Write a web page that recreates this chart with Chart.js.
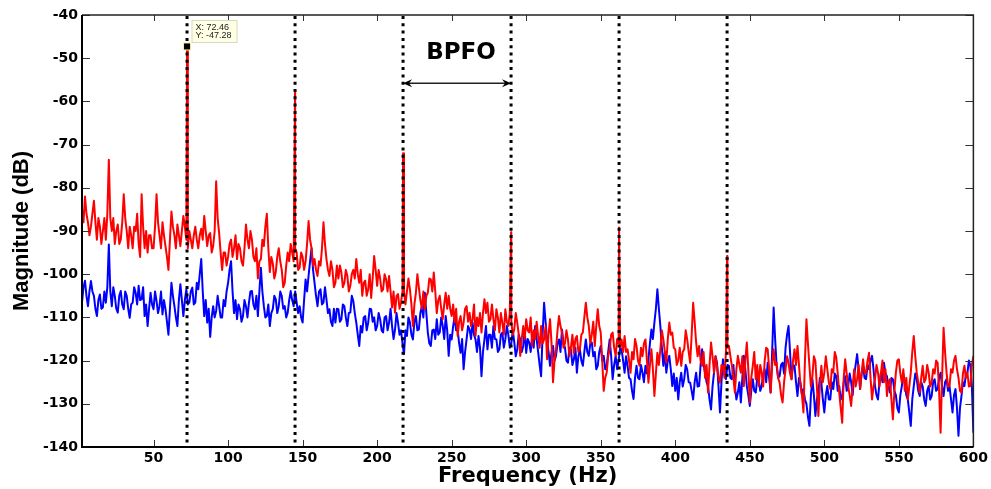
<!DOCTYPE html>
<html>
<head>
<meta charset="utf-8">
<script src="https://cdn.jsdelivr.net/npm/chart.js@4.4.1/dist/chart.umd.min.js"></script>
<style>
html,body{margin:0;padding:0;background:#fff;}
#wrap{width:991px;height:489px;}
</style>
</head>
<body>
<div id="wrap"><canvas id="c" width="991" height="489"></canvas></div>
<script>
// ---- data ----
const freqStart = 2;      // Hz, first bin
const freqStep = 1;       // Hz, bin spacing
const redMagnitude = [
 -85, -88, -82, -86, -88, -91, -89, -86, -83, -88,
 -92, -87, -89, -93, -90, -87, -92, -86, -73.5, -87,
 -90, -87, -93, -90, -88.5, -93, -92, -88, -81.5, -87,
 -90, -94, -89, -91, -94, -89, -90, -86, -93, -96,
 -81.5, -89, -94, -90, -95, -91, -91, -94, -94, -89,
 -81.5, -88, -91, -94, -88, -91, -93.5, -96, -99, -92,
 -85.5, -89, -91, -94, -88.5, -91, -93.5, -90, -86.5, -89,
 -92, -94, -90, -92, -94, -91, -89, -92, -94, -91,
 -89.5, -92, -86.5, -90, -93.5, -91, -90.5, -95, -93.5, -90,
 -78.5, -87, -90.5, -95, -99, -95, -95, -98, -96, -93,
 -92, -96, -94, -91, -96.5, -93, -94, -97, -98, -94,
 -88.5, -92, -94, -90, -92, -96, -97, -94, -101, -97,
 -96.5, -92, -93.5, -89, -86, -94, -99.5, -96, -97.5, -101,
 -99.5, -96, -94, -97, -99, -103, -102, -98, -95, -97,
 -93, -95, -97, -94, -95, -99, -98.5, -95, -96, -99,
 -97, -93, -87.7, -92, -94, -98, -96.5, -99, -100.4, -97,
 -98, -94, -88, -93, -96.5, -99, -100.4, -97, -99, -103,
 -102, -98, -101, -98, -99.6, -103, -102, -99, -100.4, -104,
 -102.7, -100, -99, -101, -96.5, -100, -102, -99, -105, -102,
 -101.5, -105, -103.5, -100, -105.5, -101, -95.8, -99, -102.7, -99,
 -101, -104, -103.5, -100, -101.2, -104, -100.4, -104, -107.7, -104,
 -108.9, -105, -104.6, -108, -106.6, -104, -104, -107, -103.9, -101,
 -103.5, -107, -112, -107, -104.3, -100, -103.1, -106, -108, -104,
 -108.1, -105, -104.3, -101, -101.2, -104, -99.6, -104, -109, -106,
 -105, -108, -110.4, -107, -104.3, -108, -105, -108, -109.7, -107,
 -111.2, -108, -114.3, -111, -109.7, -113, -111.2, -108, -107.4, -111,
 -108.9, -112, -110.4, -107, -114.3, -110, -112, -109, -113.5, -109,
 -105.8, -109, -106.6, -111, -110.4, -107, -110.4, -113, -108.1, -110,
 -113.5, -109, -111.2, -114, -108.1, -111, -112, -109, -111, -114,
 -112.8, -109, -111.2, -114, -118.9, -115, -112, -115, -110.4, -113,
 -113.5, -110, -116.6, -113, -115, -111, -114.3, -117, -112, -116,
 -115.1, -112, -119.7, -114, -110.4, -116, -125, -120, -117.4, -113,
 -109.7, -112, -113.5, -117, -116, -113, -115.1, -119, -117, -114,
 -118.2, -115, -114.3, -118, -117.4, -114, -113.5, -110, -106.6, -110,
 -112, -116, -114, -111, -116.6, -112, -108.1, -112, -113.5, -120,
 -127, -124, -122.8, -119, -117.4, -114, -113.5, -117, -118.9, -115,
 -116, -117, -115.1, -118, -114.3, -118, -117.4, -120, -122.8, -118,
 -119.7, -115, -116.6, -120, -121.2, -117, -119, -116, -115.1, -120,
 -125.1, -121, -117.4, -122, -128.2, -123, -118.2, -121, -117.4, -113,
 -115.1, -118, -120.5, -115, -111.2, -114, -113.5, -117, -117.4, -121,
 -120, -117, -121.2, -118, -117.4, -113, -115.1, -118, -120.5, -114,
 -106.6, -111, -115.8, -119, -116.6, -120, -121.2, -118, -124, -121,
 -127.4, -121, -115.8, -119, -122.8, -119, -121.2, -124, -125.1, -121,
 -121.2, -124, -118, -117, -116.6, -119, -121.2, -124, -127.4, -122,
 -118.9, -121, -122.8, -119, -125.9, -120, -115.8, -122, -129.7, -124,
 -121.2, -118, -124.3, -121, -125.9, -121, -122.8, -126, -120, -117,
 -117.4, -122, -127.4, -121, -117.4, -121, -120.5, -124, -125.1, -128,
 -129.7, -125, -122, -119, -120.5, -123, -124.3, -120, -117.4, -121,
 -116.6, -121, -125.9, -128, -132, -120, -110.4, -116, -121.2, -126,
 -123.6, -119, -120.1, -126, -132.8, -126, -121.2, -125, -122.8, -119,
 -122, -125, -126.6, -122, -122.8, -118, -119.3, -123, -127.4, -131,
 -134.4, -124, -119.7, -123, -125.9, -128, -130.5, -126, -122, -126,
 -124.3, -121, -126.6, -123, -119.7, -123, -122.8, -120, -118.2, -124,
 -129, -126, -124.3, -121, -122.8, -126, -122.8, -120, -125, -122,
 -128.2, -125, -124.3, -129, -133.6, -127, -122.8, -120, -119.7, -123,
 -125.1, -122, -127, -124, -129, -126, -122.8, -118, -114.3, -119,
 -122.8, -125, -127.4, -124, -121.2, -125, -124.3, -121, -122.8, -126,
 -125.1, -122, -123, -120, -120.5, -127, -136.7, -124, -112.4, -118,
 -122.8, -126, -125.9, -122, -122.8, -120, -118.9, -122, -124, -127,
 -127.4, -123, -121.2, -124, -122.8, -126, -125.9, -121, -118.9
];
const blueMagnitude = [
 -106.5, -103, -101.5, -105, -107.4, -104, -101.6, -104, -105, -108,
 -109.7, -106, -104.7, -108, -107.7, -104, -106.6, -103, -93.1, -104,
 -107.4, -103, -105, -108, -108.9, -105, -103.9, -107, -108.1, -104,
 -105, -108, -110.1, -107, -106.6, -103, -104.3, -107, -102.7, -106,
 -105.8, -103, -109.7, -107, -112, -108, -104.3, -107, -108.1, -104,
 -106.2, -109, -107.4, -104, -109.3, -106, -108.1, -111, -114, -108,
 -102, -105, -107.4, -110, -112, -106, -102.3, -106, -109.7, -106,
 -103.5, -107, -106.6, -104, -103.1, -107, -106.6, -102, -103.5, -100,
 -96.5, -104, -109.7, -106, -111.2, -108, -114.5, -110, -107.4, -110,
 -108.5, -105, -107.4, -110, -110, -106, -107.4, -104, -102, -99,
 -97, -104, -109, -106, -110.4, -107, -108.1, -111, -109.7, -106,
 -107.4, -110, -106.6, -104, -103.9, -107, -108.1, -105, -109.7, -104,
 -98.5, -104, -107.4, -110, -109.7, -107, -112, -109, -108.1, -105,
 -105.8, -109, -107.4, -104, -105, -108, -107.4, -110, -108.9, -106,
 -103.9, -106, -107.4, -104, -106.6, -109, -107.4, -110, -111.2, -106,
 -101.2, -104, -100.4, -97, -94, -99, -102, -105, -107.4, -104,
 -103.5, -107, -106.6, -103, -105.8, -109, -108.1, -111, -112, -108,
 -111.2, -108, -108.1, -111, -110.4, -107, -107.4, -110, -112, -109,
 -108.9, -105, -106.2, -109, -111.2, -114, -116.6, -112, -113.5, -110,
 -109.7, -113, -111.2, -108, -108.1, -111, -110, -113, -112, -109,
 -110.4, -113, -113.5, -110, -109.7, -113, -111.2, -108, -112, -115,
 -112.8, -109, -111.2, -114, -113, -116, -118.5, -113, -114.3, -110,
 -111.2, -114, -115.1, -111, -109.7, -113, -112.8, -109, -107.4, -110,
 -104.3, -109, -113.5, -116, -116.6, -113, -112.8, -115, -110.4, -114,
 -113.5, -110, -112, -115, -109.7, -113, -118.9, -114, -115.1, -112,
 -109.7, -113, -112.8, -116, -118.2, -115, -122, -118, -115.1, -112,
 -112.8, -115, -111.2, -114, -115.1, -118, -114.3, -117, -123.6, -118,
 -115.1, -112, -117.4, -114, -114, -117, -112, -115, -115.1, -118,
 -117.4, -114, -113.5, -117, -115.1, -112, -114, -117, -116, -113,
 -115.8, -119, -117.4, -114, -115.1, -118, -116.6, -113, -118.2, -115,
 -115.8, -118, -114.3, -117, -112, -115, -118, -121, -123.6, -114,
 -106.6, -111, -115.1, -118, -121.2, -118, -116.6, -120, -118.9, -116,
 -115.1, -118, -112.8, -116, -117, -120, -120.5, -117, -117.4, -121,
 -119.7, -117, -122.8, -119, -117.4, -120, -121.2, -118, -115.1, -118,
 -118.9, -116, -115.8, -119, -118, -122, -121.2, -118, -116.6, -120,
 -118.9, -122, -121.2, -118, -115.1, -119, -124.3, -121, -118.9, -122,
 -120, -117, -117.4, -120, -122.8, -119, -121.2, -124, -124.3, -127,
 -128.9, -124, -121.2, -124, -124.3, -121, -122.8, -125, -121.2, -123,
 -119.7, -116, -112.8, -115, -111.2, -108, -103.5, -108, -112, -117,
 -121.2, -118, -122.8, -120, -118.9, -122, -125.9, -123, -127, -124,
 -129, -125, -122.8, -126, -124.3, -121, -122, -125, -125.1, -127,
 -129, -125, -122.8, -126, -125.9, -121, -117.4, -121, -122.8, -125,
 -126, -129, -131.3, -126, -122.8, -119, -120.5, -126, -132, -125,
 -119.7, -122, -124.3, -121, -121.2, -124, -124.3, -121, -126, -129,
 -127.4, -125, -129.7, -124, -118.9, -122, -125.9, -128, -130.5, -127,
 -124.3, -127, -127.4, -124, -124.3, -127, -125.9, -123, -122, -125,
 -120.5, -124, -127.4, -118, -107.7, -115, -121.2, -124, -123.6, -121,
 -120.5, -123, -117, -114, -112, -118, -124.3, -121, -121.2, -125,
 -128.2, -124, -125.1, -128, -126.6, -129, -130, -133, -135.1, -128,
 -124.3, -128, -132.8, -129, -127.4, -124, -125.1, -129, -132, -128,
 -125.9, -129, -129, -125, -126.6, -123, -123.6, -127, -125.9, -129,
 -128.2, -125, -123.6, -127, -125.9, -123, -125, -128, -123.6, -121,
 -118.5, -122, -126.6, -123, -121.2, -124, -124.3, -121, -122, -120,
 -118.9, -122, -125.9, -128, -129, -125, -122.8, -125, -120.5, -123,
 -123.6, -126, -127.4, -124, -124.3, -127, -128, -131, -132, -128,
 -125.9, -123, -125.1, -128, -129, -132, -135.1, -129, -125.9, -123,
 -124.3, -127, -128.2, -125, -126, -129, -130.5, -127, -125.9, -129,
 -128.2, -125, -124.3, -127, -126.6, -124, -122.8, -126, -128.2, -125,
 -124.3, -127, -126, -129, -132, -128, -126.6, -131, -137.4, -131,
 -128.2, -125, -125.9, -123, -122.8, -120, -121.2, -126, -136.7
];
// BPFO harmonics (dotted lines) and the red spectral peaks on them
const bpfoFreqs = [72.46, 144.92, 217.38, 289.84, 362.30, 434.76];
const redPeaks = [-47.28, -57.5, -72.0, -90.3, -89.2, -95.8];
const xTickValues = [50, 100, 150, 200, 250, 300, 350, 400, 450, 500, 550, 600];
const yTickValues = [-140, -130, -120, -110, -100, -90, -80, -70, -60, -50, -40];
const xRange = [2, 600];
const yRange = [-140, -40];
const dataTip = { x: 72.46, y: -47.28 };
const bpfoLabel = { text: 'BPFO', y: -48.7, arrowY: -55.8, from: 2, to: 3 };

// ---- build library data ----
const bluePts = blueMagnitude.map((v, i) => ({ x: freqStart + i * freqStep, y: v }));
const redPts = redMagnitude.map((v, i) => ({ x: freqStart + i * freqStep, y: v }))
  .concat(bpfoFreqs.map((f, i) => ({ x: f, y: redPeaks[i] })))
  .sort((a, b) => a.x - b.x);

const overlay = {
  id: 'overlay',
  afterDatasetsDraw(chart) {
    const { ctx, chartArea: a, scales: { x, y } } = chart;
    ctx.save();
    // dotted harmonic lines
    ctx.strokeStyle = '#000';
    ctx.lineWidth = 3;
    ctx.setLineDash([3, 4.3]);
    bpfoFreqs.forEach(f => {
      const px = x.getPixelForValue(f);
      ctx.beginPath(); ctx.moveTo(px, a.top + 1); ctx.lineTo(px, a.bottom); ctx.stroke();
    });
    ctx.setLineDash([]);
    // inner ticks
    ctx.strokeStyle = '#333';
    ctx.lineWidth = 1;
    xTickValues.forEach(v => {
      const px = Math.round(x.getPixelForValue(v)) + 0.5;
      ctx.beginPath();
      ctx.moveTo(px, a.bottom); ctx.lineTo(px, a.bottom - 7);
      ctx.moveTo(px, a.top); ctx.lineTo(px, a.top + 6);
      ctx.stroke();
    });
    yTickValues.forEach(v => {
      const py = Math.round(y.getPixelForValue(v)) + 0.5;
      ctx.beginPath();
      ctx.moveTo(a.left, py); ctx.lineTo(a.left + 8, py);
      ctx.moveTo(a.right, py); ctx.lineTo(a.right - 8, py);
      ctx.stroke();
    });
    // axes box
    ctx.strokeStyle = '#222';
    ctx.lineWidth = 1.5;
    ctx.beginPath();
    ctx.moveTo(a.left, a.top); ctx.lineTo(a.right, a.top); ctx.lineTo(a.right, a.bottom);
    ctx.stroke();
    ctx.strokeStyle = '#000';
    ctx.lineWidth = 2;
    ctx.beginPath();
    ctx.moveTo(a.left, a.top); ctx.lineTo(a.left, a.bottom); ctx.lineTo(a.right, a.bottom);
    ctx.stroke();
    // data tip
    const mx = x.getPixelForValue(dataTip.x), my = y.getPixelForValue(dataTip.y);
    ctx.fillStyle = '#f4f0a0';
    ctx.fillRect(mx - 4, my - 4, 8, 8);
    ctx.fillStyle = '#000';
    ctx.fillRect(mx - 3, my - 3, 6, 6);
    const bx = mx + 4.5, by = my - 26.5;
    ctx.fillStyle = '#ffffe6';
    ctx.fillRect(bx, by, 46, 23);
    ctx.strokeStyle = '#d8d8c0';
    ctx.lineWidth = 1;
    ctx.strokeRect(bx + 0.5, by + 0.5, 45, 22);
    ctx.fillStyle = '#222';
    ctx.font = '9px "Liberation Sans", Arial, sans-serif';
    ctx.textAlign = 'left';
    ctx.textBaseline = 'middle';
    ctx.fillText('X: ' + dataTip.x.toFixed(2), bx + 4, by + 7.5);
    ctx.fillText('Y: ' + dataTip.y.toFixed(2), bx + 4, by + 15.5);
    // BPFO label and arrow
    const x1 = x.getPixelForValue(bpfoFreqs[bpfoLabel.from]);
    const x2 = x.getPixelForValue(bpfoFreqs[bpfoLabel.to]);
    ctx.fillStyle = '#000';
    ctx.font = 'bold 23px "DejaVu Sans", sans-serif';
    ctx.textAlign = 'center';
    ctx.fillText(bpfoLabel.text, (x1 + x2) / 2 + 4, y.getPixelForValue(bpfoLabel.y));
    const ay = y.getPixelForValue(bpfoLabel.arrowY);
    ctx.strokeStyle = '#222';
    ctx.lineWidth = 1.5;
    ctx.beginPath(); ctx.moveTo(x1 + 3, ay); ctx.lineTo(x2 - 3, ay); ctx.stroke();
    ctx.fillStyle = '#000';
    ctx.beginPath();
    ctx.moveTo(x1, ay); ctx.lineTo(x1 + 9, ay - 4); ctx.lineTo(x1 + 6, ay); ctx.lineTo(x1 + 9, ay + 4); ctx.closePath();
    ctx.fill();
    ctx.beginPath();
    ctx.moveTo(x2, ay); ctx.lineTo(x2 - 9, ay - 4); ctx.lineTo(x2 - 6, ay); ctx.lineTo(x2 - 9, ay + 4); ctx.closePath();
    ctx.fill();
    ctx.restore();
  }
};

const tickFont = { family: '"DejaVu Sans", sans-serif', weight: 'bold', size: 14 };

new Chart(document.getElementById('c'), {
  type: 'line',
  data: {
    datasets: [
      { label: 'Faulty', data: redPts, borderColor: '#ff0000', borderWidth: 2, pointRadius: 0, tension: 0, borderJoinStyle: 'round' },
      { label: 'Healthy', data: bluePts, borderColor: '#0000ff', borderWidth: 2, pointRadius: 0, tension: 0, borderJoinStyle: 'round' }
    ]
  },
  options: {
    responsive: false,
    animation: false,
    devicePixelRatio: 1,
    layout: { padding: { top: 15, right: 17, left: 0, bottom: 0 } },
    plugins: { legend: { display: false }, tooltip: { enabled: false } },
    scales: {
      x: {
        type: 'linear',
        min: xRange[0], max: xRange[1],
        grid: { display: false, drawTicks: false },
        border: { display: false },
        afterBuildTicks: s => { s.ticks = xTickValues.map(v => ({ value: v })); },
        afterFit: s => { s.height = 42; },
        ticks: { font: tickFont, color: '#000', padding: 3, maxRotation: 0, autoSkip: false },
        title: { display: true, text: 'Frequency (Hz)', color: '#000',
                 font: { family: '"DejaVu Sans", sans-serif', weight: 'bold', size: 21 },
                 padding: { top: 0, bottom: 0 } }
      },
      y: {
        min: yRange[0], max: yRange[1],
        grid: { display: false, drawTicks: false },
        border: { display: false },
        afterBuildTicks: s => { s.ticks = yTickValues.map(v => ({ value: v })); },
        afterFit: s => { s.width = 82; },
        ticks: { font: tickFont, color: '#000', padding: 4, autoSkip: false },
        title: { display: true, text: 'Magnitude (dB)', color: '#000',
                 font: { family: '"Liberation Sans", Arial, sans-serif', weight: 'bold', size: 22 },
                 padding: { top: 9, bottom: 0 } }
      }
    }
  },
  plugins: [overlay]
});
</script>
</body>
</html>
